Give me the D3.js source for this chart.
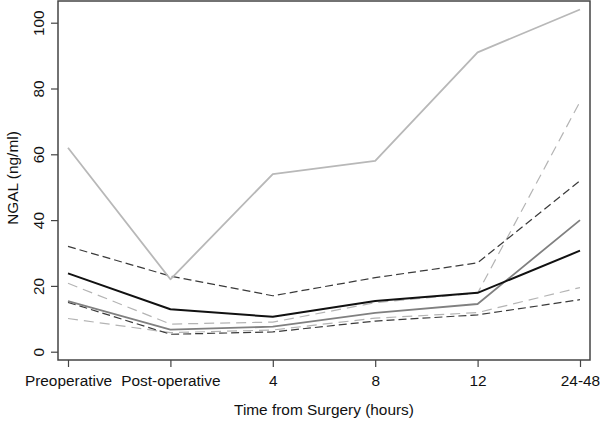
<!DOCTYPE html>
<html>
<head>
<meta charset="utf-8">
<script src="https://cdn.jsdelivr.net/npm/d3@7"></script>
<style>
html,body{margin:0;padding:0;background:#fff;}
svg{display:block;font-family:"Liberation Sans",Arial,sans-serif;}
</style>
</head>
<body>
<svg id="chart" width="600" height="421"></svg>
<script>
const categories = ["Preoperative","Post-operative","4","8","12","24-48"];
const yTicks = [0,20,40,60,80,100];

const sLightSolid   = [62, 22, 54, 58, 91, 104];
const sDarkDashTop  = [32, 23, 17, 22.5, 27, 52];
const sBlackSolid   = [23.8, 12.9, 10.6, 15.4, 17.9, 30.7];
const sLightDashHi  = [20.8, 8.4, 9.0, 14.9, 17.8, 76];
const sGraySolid    = [15.4, 6.7, 7.6, 11.8, 14.5, 40];
const sDarkDashLow  = [15.0, 5.3, 6.0, 9.3, 11.2, 15.8];
const sLightDashLow = [10.1, 5.8, 6.6, 10.2, 11.9, 19.5];

const series = [
  {v: sLightDashLow, color:"#b4b4b4", w:1.2, dash:"10,6"},
  {v: sDarkDashLow,  color:"#3a3a3a", w:1.2, dash:"8,4"},
  {v: sLightDashHi,  color:"#b4b4b4", w:1.2, dash:"10,6"},
  {v: sGraySolid,    color:"#808080", w:1.8, dash:null},
  {v: sDarkDashTop,  color:"#3a3a3a", w:1.2, dash:"8,4"},
  {v: sBlackSolid,   color:"#111111", w:2,   dash:null},
  {v: sLightSolid,   color:"#b8b8b8", w:1.8, dash:null}
];

const svg = d3.select("#chart");
const L = 58, R = 590, T = 1, B = 360;
const FS = 15.4;

const x = d3.scalePoint().domain(categories).range([68, 580]);
const y = d3.scaleLinear().domain([0,100]).range([351.7, 22.7]);

const plot = svg.append("g");
const line = d3.line().x((d,i)=>x(categories[i])).y(d=>y(d));

series.forEach(s=>{
  plot.append("path")
    .datum(s.v)
    .attr("d", line)
    .attr("fill","none")
    .attr("stroke", s.color)
    .attr("stroke-width", s.w)
    .attr("stroke-dasharray", s.dash)
    .attr("stroke-linejoin","round");
});

// frame
svg.append("rect").attr("x",L).attr("y",T).attr("width",R-L).attr("height",B-T)
  .attr("fill","none").attr("stroke","#444").attr("stroke-width",1.5);

// x axis
const xAxis = d3.axisBottom(x).tickSize(7).tickPadding(8);
const gx = svg.append("g").attr("transform",`translate(0,${B})`).call(xAxis);
gx.select(".domain").remove();
gx.selectAll(".tick line").attr("stroke","#444").attr("stroke-width",1.2);
gx.selectAll(".tick text").attr("font-size",FS).attr("fill","#111")
  .attr("font-family","'Liberation Sans',Arial,sans-serif");

// y axis
const yAxis = d3.axisLeft(y).tickValues(yTicks).tickSize(7).tickPadding(4);
const gy = svg.append("g").attr("transform",`translate(${L},0)`).call(yAxis);
gy.select(".domain").remove();
gy.selectAll(".tick line").attr("stroke","#444").attr("stroke-width",1.2);
gy.selectAll(".tick text").attr("font-size",FS).attr("fill","#111")
  .attr("font-family","'Liberation Sans',Arial,sans-serif")
  .attr("text-anchor","middle").attr("dy",null)
  .attr("transform","translate(-20,0) rotate(-90)")
  .attr("x",0).attr("y",0).attr("dominant-baseline","central");

// axis titles
svg.append("text").attr("x",(L+R)/2).attr("y",415).attr("text-anchor","middle")
  .attr("font-size",FS).attr("fill","#111").text("Time from Surgery (hours)");
svg.append("text").attr("transform","translate(12,178) rotate(-90)")
  .attr("text-anchor","middle").attr("dominant-baseline","central")
  .attr("font-size",FS).attr("fill","#111").text("NGAL (ng/ml)");
</script>
</body>
</html>
